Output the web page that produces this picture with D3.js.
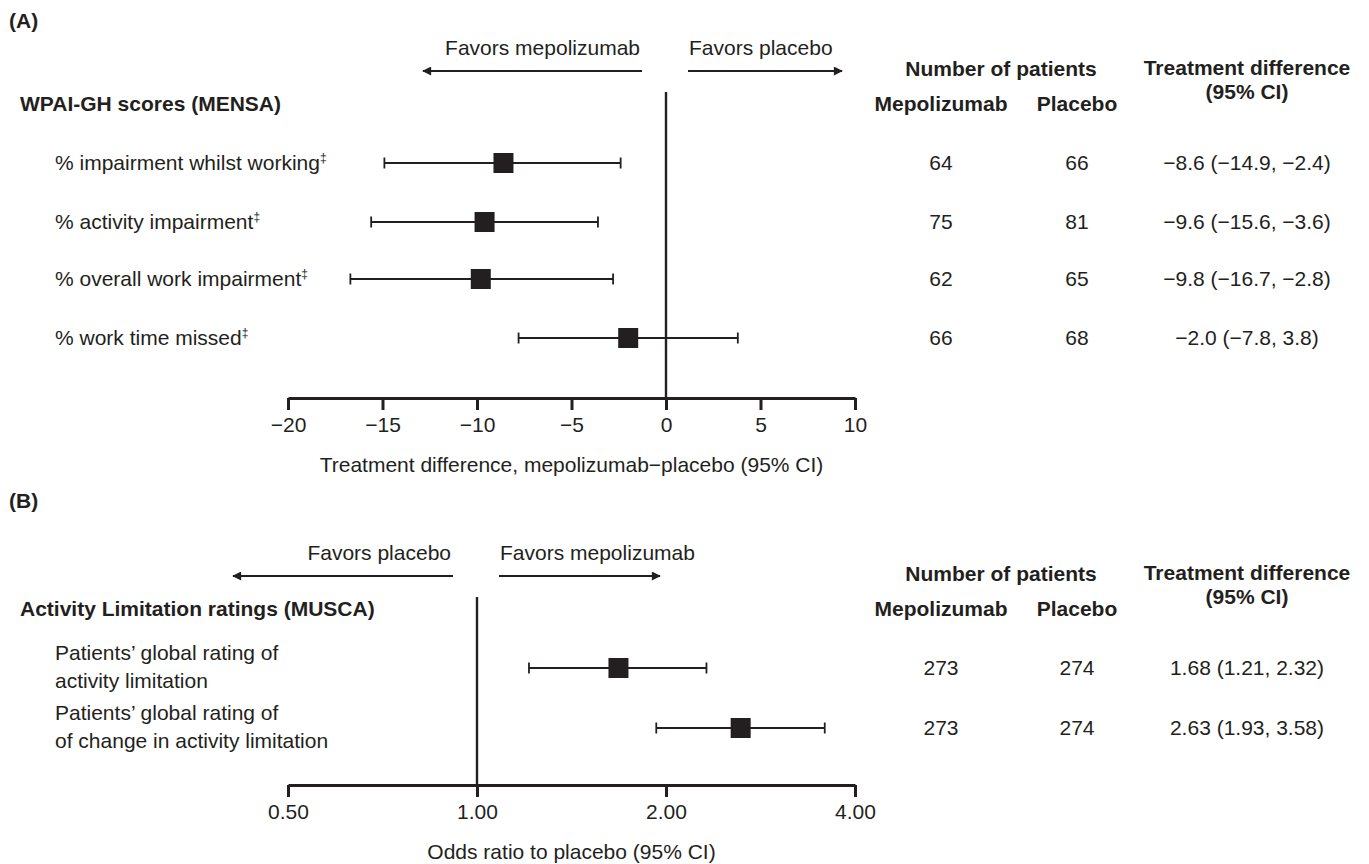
<!DOCTYPE html>
<meta charset="utf-8">
<script src="https://d3js.org/d3.v7.min.js"></script>
<style>
body { margin: 0; background: #fff; }
text { font-family: "Liberation Sans", Arial, sans-serif; fill: #231f20; }
</style>
<body>
<div id="chart"></div>
<script>
// ---- data: panel A (WPAI-GH, MENSA) ----
var labelsA = ["% impairment whilst working", "% activity impairment", "% overall work impairment", "% work time missed"];
var estA = [-8.6, -9.6, -9.8, -2.0];
var lowA = [-14.9, -15.6, -16.7, -7.8];
var highA = [-2.4, -3.6, -2.8, 3.8];
var mepoA = [64, 75, 62, 66];
var placA = [66, 81, 65, 68];
var ciTextA = ["\u22128.6 (\u221214.9, \u22122.4)", "\u22129.6 (\u221215.6, \u22123.6)", "\u22129.8 (\u221216.7, \u22122.8)", "\u22122.0 (\u22127.8, 3.8)"];
var ticksA = [-20, -15, -10, -5, 0, 5, 10];

// ---- data: panel B (Activity limitation, MUSCA) ----
var labelsB = [["Patients\u2019 global rating of", "activity limitation"],
               ["Patients\u2019 global rating of", "of change in activity limitation"]];
var estB = [1.68, 2.63];
var lowB = [1.21, 1.93];
var highB = [2.32, 3.58];
var mepoB = [273, 273];
var placB = [274, 274];
var ciTextB = ["1.68 (1.21, 2.32)", "2.63 (1.93, 3.58)"];
var ticksB = [0.5, 1, 2, 4];

var W = 1369, H = 864;
var fs = 21;
var ink = "#231f20";

var svg = d3.select("#chart").append("svg")
  .attr("width", W).attr("height", H);

svg.append("defs").append("marker")
  .attr("id", "arrow")
  .attr("viewBox", "0 0 10 10")
  .attr("refX", 9).attr("refY", 5)
  .attr("markerWidth", 5).attr("markerHeight", 4.5)
  .attr("markerUnits", "strokeWidth")
  .attr("orient", "auto")
  .append("path").attr("d", "M0,0 L10,5 L0,10 z").attr("fill", ink);

var colMepo = 941, colPlac = 1077, colCI = 1247;

function txt(g, x, y, s, anchor, bold) {
  return g.append("text").attr("x", x).attr("y", y)
    .attr("text-anchor", anchor || "start")
    .style("font-size", fs + "px")
    .style("font-weight", bold ? "bold" : "normal")
    .text(s);
}

function drawPanel(cfg) {
  var g = svg.append("g");
  var x = cfg.x;
  var t = cfg.top;   // baseline of the "Favors" labels
  var x0 = x(cfg.ref);

  txt(g, 9, cfg.tagY, cfg.tag, "start", true);

  // favors arrows
  txt(g, x0 - 26, t, cfg.leftLabel, "end");
  txt(g, x0 + 23, t, cfg.rightLabel, "start");
  g.append("line").attr("x1", x0 - 24).attr("x2", cfg.leftArrowEnd)
    .attr("y1", t + 16).attr("y2", t + 16)
    .attr("stroke", ink).attr("stroke-width", 2).attr("marker-end", "url(#arrow)");
  g.append("line").attr("x1", x0 + 22).attr("x2", cfg.rightArrowEnd)
    .attr("y1", t + 16).attr("y2", t + 16)
    .attr("stroke", ink).attr("stroke-width", 2).attr("marker-end", "url(#arrow)");

  // section title and table headers
  txt(g, 20, t + 56, cfg.title, "start", true);
  txt(g, 1001, t + 21, "Number of patients", "middle", true);
  txt(g, colMepo, t + 56, "Mepolizumab", "middle", true);
  txt(g, colPlac, t + 56, "Placebo", "middle", true);
  txt(g, colCI, t + 20, "Treatment difference", "middle", true);
  txt(g, colCI, t + 44, "(95% CI)", "middle", true);

  // reference line
  g.append("line").attr("x1", x0).attr("x2", x0)
    .attr("y1", cfg.refTop).attr("y2", cfg.axisY)
    .attr("stroke", ink).attr("stroke-width", 2.4);

  // axis
  var axis = g.append("g").attr("transform", "translate(0," + cfg.axisY + ")")
    .call(d3.axisBottom(x).tickValues(cfg.ticks).tickSize(12).tickPadding(7)
      .tickFormat(cfg.fmt).tickSizeOuter(0));
  axis.select(".domain").attr("stroke", ink).attr("stroke-width", 3);
  axis.selectAll(".tick line").attr("stroke", ink).attr("stroke-width", 3);
  axis.selectAll(".tick text").style("font-size", fs + "px")
    .style("font-family", "Liberation Sans, Arial, sans-serif").attr("fill", ink);

  txt(g, (x.range()[0] + x.range()[1]) / 2, cfg.axisY + 74, cfg.axisTitle, "middle");

  // rows
  cfg.rows.forEach(function(r, i) {
    var y = cfg.rowY[i];
    var lab = g.append("text").attr("x", 55).style("font-size", fs + "px");
    if (Array.isArray(r.label)) {
      r.label.forEach(function(l, j) {
        lab.append("tspan").attr("x", 55).attr("y", y - 8 + j * 28).text(l);
      });
    } else {
      lab.attr("y", y + 7).text(r.label);
      if (cfg.dagger) lab.append("tspan").attr("dy", -8).style("font-size", "12px").text("\u2021");
    }
    g.append("line").attr("x1", x(r.low)).attr("x2", x(r.high)).attr("y1", y).attr("y2", y)
      .attr("stroke", ink).attr("stroke-width", 1.8);
    [r.low, r.high].forEach(function(v) {
      g.append("line").attr("x1", x(v)).attr("x2", x(v)).attr("y1", y - 5.5).attr("y2", y + 5.5)
        .attr("stroke", ink).attr("stroke-width", 1.8);
    });
    g.append("rect").attr("x", x(r.est) - 10).attr("y", y - 10).attr("width", 20).attr("height", 20)
      .attr("fill", ink);
    txt(g, colMepo, y + 7, r.mepo, "middle");
    txt(g, colPlac, y + 7, r.plac, "middle");
    txt(g, colCI, y + 7, r.ci, "middle");
  });
}

var xA = d3.scaleLinear().domain([-20, 10]).range([288, 855]);
drawPanel({
  tag: "(A)", tagY: 28, top: 55, x: xA, ref: 0,
  leftLabel: "Favors mepolizumab", rightLabel: "Favors placebo",
  leftArrowEnd: 423, rightArrowEnd: 842,
  title: "WPAI-GH scores (MENSA)",
  refTop: 92, axisY: 398, ticks: ticksA,
  fmt: function(d) { return String(d).replace("-", "\u2212"); },
  axisTitle: "Treatment difference, mepolizumab\u2212placebo (95% CI)",
  rowY: [163, 222, 279, 338], dagger: true,
  rows: labelsA.map(function(l, i) {
    return {label: l, est: estA[i], low: lowA[i], high: highA[i], mepo: mepoA[i], plac: placA[i], ci: ciTextA[i]};
  })
});

var xB = d3.scaleLog().base(2).domain([0.5, 4]).range([288, 855]);
drawPanel({
  tag: "(B)", tagY: 508, top: 560, x: xB, ref: 1,
  leftLabel: "Favors placebo", rightLabel: "Favors mepolizumab",
  leftArrowEnd: 233, rightArrowEnd: 660,
  title: "Activity Limitation ratings (MUSCA)",
  refTop: 597, axisY: 785, ticks: ticksB,
  fmt: d3.format(".2f"),
  axisTitle: "Odds ratio to placebo (95% CI)",
  rowY: [668, 728], dagger: false,
  rows: labelsB.map(function(l, i) {
    return {label: l, est: estB[i], low: lowB[i], high: highB[i], mepo: mepoB[i], plac: placB[i], ci: ciTextB[i]};
  })
});
</script>
</body>
